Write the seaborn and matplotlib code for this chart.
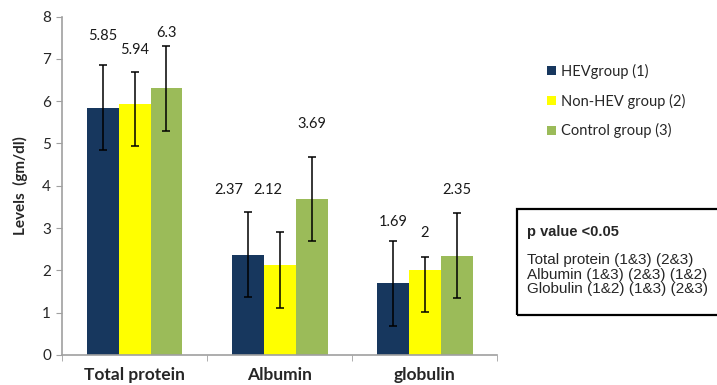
import pandas as pd
import seaborn as sns
import matplotlib.pyplot as plt
from matplotlib.patches import Rectangle

# --- data ---
categories = ["Total protein", "Albumin", "globulin"]
groups = ["HEVgroup (1)", "Non-HEV group (2)", "Control group (3)"]
hev = [5.85, 2.37, 1.69]
non_hev = [5.94, 2.12, 2.0]
control = [6.3, 3.69, 2.35]

# error bars (lower / upper), per group, per category
err_low = [[1.0, 1.0, 1.0], [1.0, 1.0, 0.98], [1.0, 1.0, 1.0]]
err_up = [[1.0, 1.0, 1.0], [0.76, 0.78, 0.31], [1.0, 1.0, 1.0]]

# heights of the value labels, as placed on the original
label_y = [[7.55, 3.9, 3.15], [7.22, 3.9, 2.88], [7.6, 5.45, 3.9]]
label_dx = [[0.0, -0.13, 0.0], [0.0, -0.08, 0.0], [0.0, 0.0, 0.0]]

colors = ["#17375E", "#FFFF00", "#9BBB59"]

df = pd.DataFrame({
    "Category": categories * 3,
    "Group": [g for g in groups for _ in categories],
    "Level": hev + non_hev + control,
})

sns.set_style("white")
plt.rcParams["font.family"] = ["Lato", "DejaVu Sans"]

fig = plt.figure(figsize=(7.17, 3.85), dpi=100)
ax = fig.add_axes([0.0865, 0.078, 0.607, 0.879])

sns.barplot(data=df, x="Category", y="Level", hue="Group", order=categories,
            hue_order=groups, palette=colors, width=0.66, gap=0,
            errorbar=None, saturation=1, linewidth=0, ax=ax)

values = [hev, non_hev, control]
bar_sets = list(ax.containers)[:3]
for gi, cont in enumerate(bar_sets):
    xs = [b.get_x() + b.get_width() / 2 for b in cont.patches]
    ax.errorbar(xs, values[gi], yerr=[err_low[gi], err_up[gi]], fmt="none",
                ecolor="black", elinewidth=1.1, capsize=3, capthick=1.1)
    for ci, x in enumerate(xs):
        v = values[gi][ci]
        txt = f"{v:g}"
        ax.text(x + label_dx[gi][ci], label_y[gi][ci], txt, ha="center",
                va="center", fontsize=10.5, color="#1a1a1a")

ax.set_ylim(0, 8)
ax.set_xlim(-0.5, 2.5)
ax.set_yticks(range(0, 9))
ax.tick_params(axis="y", labelsize=11, length=4, color="#A0A0A0",
               direction="out", left=True, pad=4)
ax.set_xticks([0, 1, 2])
ax.set_xticklabels(categories, fontsize=12.5, fontweight="bold")
ax.set_xticks([-0.5, 0.5, 1.5, 2.5], minor=True)
ax.tick_params(axis="x", which="major", length=0, pad=9)
ax.tick_params(axis="x", which="minor", length=4, color="#A0A0A0",
               direction="out", bottom=True)
ax.set_xlabel("")
ax.set_ylabel("Levels  (gm/dl)", fontsize=11, fontweight="bold", labelpad=10)

for s in ["top", "right"]:
    ax.spines[s].set_visible(False)
for s in ["left", "bottom"]:
    ax.spines[s].set_color("#A0A0A0")
    ax.spines[s].set_linewidth(1.2)

handles, labels = ax.get_legend_handles_labels()
ax.legend(handles, labels, loc="upper left", bbox_to_anchor=(0.745, 0.868),
          bbox_transform=fig.transFigure, frameon=False, fontsize=10.5,
          handlelength=0.6, handleheight=0.6, handletextpad=0.35,
          labelspacing=1.0)

# p value box
fig.patches.append(Rectangle((517 / 717, 1 - 315 / 385), 0.3, 106 / 385,
                             transform=fig.transFigure, fill=False,
                             edgecolor="black", linewidth=1.6))
box_font = ["Liberation Sans", "DejaVu Sans"]
fig.text(527 / 717, 1 - 232 / 385, "p value <0.05", fontsize=10.5,
         fontweight="bold", va="center", family=box_font)
box_lines = ["Total protein (1&3) (2&3)", "Albumin (1&3) (2&3) (1&2)",
             "Globulin (1&2) (1&3) (2&3)"]
for i, line in enumerate(box_lines):
    fig.text(527 / 717, 1 - (260 + i * 14.5) / 385, line, fontsize=11,
             va="center", family=box_font)

fig.savefig("out.png", dpi=100)
